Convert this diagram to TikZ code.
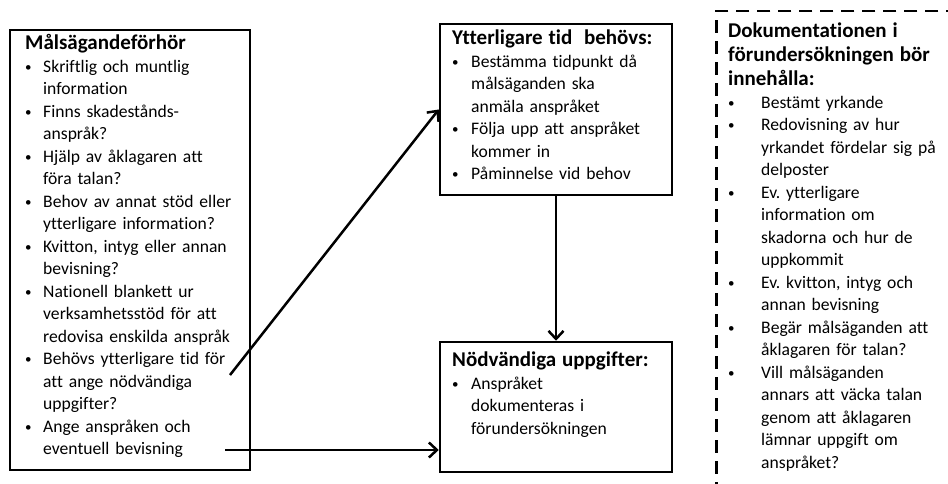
\documentclass[tikz,border=0pt]{standalone}
\usepackage{fontspec}
\setmainfont{Carlito}[Ligatures=NoCommon]
\usetikzlibrary{arrows.meta}
\frenchspacing

\newcommand{\prick}{\raisebox{1.2pt}{\fontsize{13}{13}\selectfont\textbullet}}
\newcommand{\bitem}[2][18pt]{\par\hangindent=#1\hangafter=1\noindent\makebox[#1][l]{\prick}#2\par}
\newcommand{\rubrik}[1]{{\fontsize{21}{24}\selectfont\bfseries #1\par}}

\tikzset{
  frame/.style={draw, line width=2.5pt, rectangle, inner sep=0pt},
  dframe/.style={frame, dash pattern=on 13pt off 8pt},
  txt/.style={anchor=north west, inner sep=0pt, align=left, text width=#1,
    font=\fontsize{17.6}{22.5}\selectfont},
  conn/.style={->, line width=2.5pt}
}

\begin{document}
\begin{tikzpicture}[x=1pt, y=1pt, >={Straight Barb[length=8pt,width=15pt]}]
\clip (0,0) rectangle (948,483);

% Boxes
\node[frame, minimum width=240pt, minimum height=440pt] (mal) at (130,233) {};
\node[frame, minimum width=232pt, minimum height=171pt] (ytter) at (556,373.5) {};
\node[frame, minimum width=232pt, minimum height=130pt] (nodv) at (556,76) {};
\node[dframe, anchor=north west, minimum width=260pt, minimum height=500pt] (dok) at (715,473) {};

% Texts
\node[txt=230pt] (maltext) at (25,448.5) {%
  \rubrik{Målsägandeförhör}
  \bitem{Skriftlig och muntlig\newline information}
  \bitem{Finns skadestånds-\newline anspråk?}
  \bitem{Hjälp av åklagaren att\newline föra talan?}
  \bitem{Behov av annat stöd eller\newline ytterligare information?}
  \bitem{Kvitton, intyg eller annan\newline bevisning?}
  \bitem{Nationell blankett ur\newline verksamhetsstöd för att\newline redovisa enskilda anspråk}
  \bitem{Behövs ytterligare tid för\newline att ange nödvändiga\newline uppgifter?}
  \bitem{Ange anspråken och\newline eventuell bevisning}};

\node[txt=218pt] (yttertext) at (452,453) {%
  \rubrik{Ytterligare tid\ \ behövs:}
  \bitem[19pt]{Bestämma tidpunkt då\newline målsäganden ska\newline anmäla anspråket}
  \bitem[19pt]{Följa upp att anspråket\newline kommer in}
  \bitem[19pt]{Påminnelse vid behov}};

\node[txt=218pt] (nodvtext) at (452,131) {%
  \rubrik{Nödvändiga uppgifter:}
  \bitem[19pt]{Anspråket\newline dokumenteras i\newline förundersökningen}};

\node[txt=225pt] (doktext) at (728,460) {%
  \rubrik{Dokumentationen i\\förundersökningen bör\\innehålla:}
  \bitem[33pt]{Bestämt yrkande}
  \bitem[33pt]{Redovisning av hur\newline yrkandet fördelar sig på\newline delposter}
  \bitem[33pt]{Ev. ytterligare\newline information om\newline skadorna och hur de\newline uppkommit}
  \bitem[33pt]{Ev. kvitton, intyg och\newline annan bevisning}
  \bitem[33pt]{Begär målsäganden att\newline åklagaren för talan?}
  \bitem[33pt]{Vill målsäganden\newline annars att väcka talan\newline genom att åklagaren\newline lämnar uppgift om\newline anspråket?}};

% Arrows
\coordinate (tidstart) at (230,108);
\coordinate (angestart) at (225,33);
\draw[conn] (tidstart) -- (ytter.west);
\draw[conn] (angestart) -- (angestart -| nodv.west);
\draw[conn] (ytter.south) -- (nodv.north);
\end{tikzpicture}
\end{document}
